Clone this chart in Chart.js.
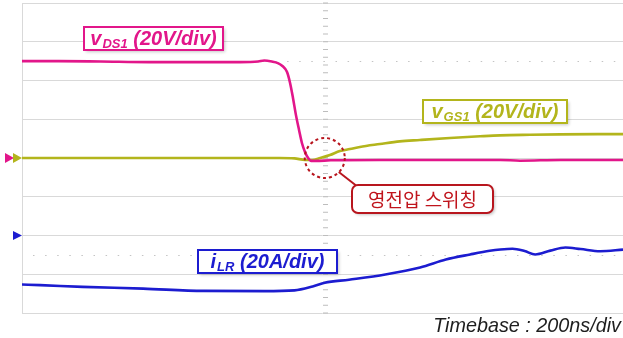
<!DOCTYPE html>
<html>
<head>
<meta charset="utf-8">
<script src="https://cdn.jsdelivr.net/npm/chart.js@4/dist/chart.umd.min.js"></script>
<style>
  html, body { margin: 0; padding: 0; background: #ffffff; }
  #wrap { width: 623px; height: 338px; }
</style>
</head>
<body>
<div id="wrap"><canvas id="scope" width="623" height="338"></canvas></div>
<script>
// Time axis: 200 ns per division
const timeDivNs = 200;
const timeMaxNs = 1985;

// Drain-source voltage (V)
const vdsTime  = [0, 120, 260, 420, 590, 720, 780, 800, 825, 845, 860, 875, 885, 895, 905, 915, 925, 935, 945, 955, 970, 1020, 1180, 1410, 1580, 1645, 1780, 1985];
const vdsVolts = [50, 50, 49.8, 49.5, 49.5, 49.5, 49.8, 50.3, 49.8, 49, 47.5, 44.5, 39, 31, 22, 14.5, 7.5, 3, 0, -1.5, -1.5, -1.2, -1, -1, -1, -1.4, -1, -1];

// Gate-source voltage (V)
const vgsTime  = [0, 260, 590, 850, 900, 935, 958, 985, 1017, 1050, 1083, 1116, 1182, 1248, 1314, 1413, 1513, 1579, 1678, 1777, 1910, 1985];
const vgsVolts = [0, 0, 0, 0, -0.2, -1, -1, 0, 1.5, 3.6, 4.6, 5.7, 7.2, 8.6, 9.3, 10.3, 11.2, 11.7, 12, 12.2, 12.3, 12.3];

// Resonant inductor current (A)
const ilrTime = [0, 60, 200, 400, 600, 800, 900, 960, 1000, 1080, 1200, 1315, 1400, 1480, 1545, 1580, 1620, 1660, 1695, 1745, 1795, 1845, 1910, 1985];
const ilrAmps = [-25.3, -25.6, -26.5, -27.4, -28.6, -28.7, -28.3, -26.3, -24.4, -22.8, -20.1, -16.5, -12.4, -9.8, -7.9, -7.2, -6.8, -8.0, -9.8, -7.8, -6.2, -7.0, -8.1, -7.3];

// Channel labels
const channelLabels = [
  { main: 'v', sub: 'DS1', rest: ' (20V/div)' },
  { main: 'v', sub: 'GS1', rest: ' (20V/div)' },
  { main: 'i', sub: 'LR',  rest: ' (20A/div)' }
];
const zvsLabel = '영전압 스위칭';
const timebaseLabel = 'Timebase : 200ns/div';

const C_VDS = '#e2168a';
const C_VGS = '#b3b51c';
const C_ILR = '#1c1cd0';
const C_ZVS = '#b8161e';
const GRID = '#d9d9d9';

const toPts = (xs, ys) => xs.map((x, i) => ({ x, y: ys[i] }));

function drawTriangle(ctx, xTip, y, w, h, color) {
  ctx.beginPath();
  ctx.moveTo(xTip - w, y - h / 2);
  ctx.lineTo(xTip, y);
  ctx.lineTo(xTip - w, y + h / 2);
  ctx.closePath();
  ctx.fillStyle = color;
  ctx.fill();
}

function drawChannelLabel(ctx, box, lab, color) {
  ctx.save();
  ctx.shadowColor = 'rgba(0,0,0,0.22)';
  ctx.shadowBlur = 3;
  ctx.shadowOffsetX = 2;
  ctx.shadowOffsetY = 2;
  ctx.fillStyle = '#ffffff';
  ctx.fillRect(box.x, box.y, box.w, box.h);
  ctx.restore();
  ctx.save();
  ctx.strokeStyle = color;
  ctx.lineWidth = 2;
  ctx.strokeRect(box.x, box.y, box.w, box.h);
  const big = 'italic bold 20px "Liberation Sans", Arial, sans-serif';
  const small = 'italic bold 13px "Liberation Sans", Arial, sans-serif';
  ctx.font = big;
  const w1 = ctx.measureText(lab.main).width;
  const w3 = ctx.measureText(lab.rest).width;
  ctx.font = small;
  const w2 = ctx.measureText(lab.sub).width;
  const total = w1 + w2 + w3 + 1;
  let x = box.x + (box.w - total) / 2;
  const base = box.y + box.h - 5;
  ctx.fillStyle = color;
  ctx.textBaseline = 'alphabetic';
  ctx.font = big;
  ctx.fillText(lab.main, x, base);
  x += w1 + 1;
  ctx.font = small;
  ctx.fillText(lab.sub, x, base + 3);
  x += w2;
  ctx.font = big;
  ctx.fillText(lab.rest, x, base);
  ctx.restore();
}

function roundRect(ctx, x, y, w, h, r) {
  ctx.beginPath();
  ctx.moveTo(x + r, y);
  ctx.lineTo(x + w - r, y);
  ctx.arcTo(x + w, y, x + w, y + r, r);
  ctx.lineTo(x + w, y + h - r);
  ctx.arcTo(x + w, y + h, x + w - r, y + h, r);
  ctx.lineTo(x + r, y + h);
  ctx.arcTo(x, y + h, x, y + h - r, r);
  ctx.lineTo(x, y + r);
  ctx.arcTo(x, y, x + r, y, r);
  ctx.closePath();
}

// Graticule extras: dotted half-division rows and minor ticks on the centre time axis
const graticulePlugin = {
  id: 'graticule',
  beforeDatasetsDraw(chart) {
    const { ctx, chartArea: a } = chart;
    const xs = chart.scales.x, yv = chart.scales.yV;
    ctx.save();
    ctx.strokeStyle = '#c4c4c4';
    ctx.lineWidth = 1;
    ctx.setLineDash([1.5, 10.6]);
    [50, -50].forEach(v => {
      const y = Math.round(yv.getPixelForValue(v)) + 0.5;
      ctx.beginPath();
      ctx.moveTo(a.left + 11, y);
      ctx.lineTo(a.right, y);
      ctx.stroke();
    });
    ctx.setLineDash([]);
    ctx.strokeStyle = '#bdbdbd';
    const cx = Math.round(xs.getPixelForValue(1000)) + 0.5;
    const cy = yv.getPixelForValue(0);
    const stepY = (yv.getPixelForValue(-20) - yv.getPixelForValue(0)) / 5;
    for (let y = cy; y <= a.bottom; y += stepY) { ctx.beginPath(); ctx.moveTo(cx - 2.5, y); ctx.lineTo(cx + 2.5, y); ctx.stroke(); }
    for (let y = cy; y >= a.top; y -= stepY) { ctx.beginPath(); ctx.moveTo(cx - 2.5, y); ctx.lineTo(cx + 2.5, y); ctx.stroke(); }
    ctx.restore();
  },
  afterDraw(chart) {
    const { ctx } = chart;
    const xs = chart.scales.x, yv = chart.scales.yV, yi = chart.scales.yI;

    // Channel reference markers
    const y0 = yv.getPixelForValue(0);
    drawTriangle(ctx, 14, y0, 9, 10, C_VDS);
    drawTriangle(ctx, 22, y0, 9, 10, C_VGS);
    drawTriangle(ctx, 22, yi.getPixelForValue(0), 9, 9, C_ILR);

    // Channel labels
    drawChannelLabel(ctx, { x: 84, y: 27, w: 139, h: 23 }, channelLabels[0], C_VDS);
    drawChannelLabel(ctx, { x: 423, y: 100, w: 144, h: 23 }, channelLabels[1], C_VGS);
    drawChannelLabel(ctx, { x: 198, y: 250, w: 139, h: 23 }, channelLabels[2], C_ILR);

    // Zero-voltage-switching marker
    const zx = xs.getPixelForValue(1000), zy = yv.getPixelForValue(0);
    ctx.save();
    ctx.strokeStyle = C_ZVS;
    ctx.lineWidth = 2;
    ctx.setLineDash([3, 3]);
    ctx.beginPath();
    ctx.arc(zx, zy, 20, 0, Math.PI * 2);
    ctx.stroke();
    ctx.setLineDash([]);
    ctx.beginPath();
    ctx.moveTo(zx + 14, zy + 14);
    ctx.lineTo(358, 187);
    ctx.stroke();
    ctx.shadowColor = 'rgba(0,0,0,0.22)';
    ctx.shadowBlur = 3;
    ctx.shadowOffsetX = 2;
    ctx.shadowOffsetY = 2;
    roundRect(ctx, 352, 185, 141, 28, 6);
    ctx.fillStyle = '#ffffff';
    ctx.fill();
    ctx.shadowColor = 'transparent';
    ctx.stroke();
    ctx.fillStyle = '#c0141c';
    ctx.font = '19px "Noto Sans CJK KR", sans-serif';
    ctx.textAlign = 'center';
    ctx.textBaseline = 'middle';
    ctx.fillText(zvsLabel, 422.5, 199.5);
    ctx.restore();

    // Timebase note
    ctx.save();
    ctx.fillStyle = '#1e1e1e';
    ctx.font = 'italic 19.8px "Liberation Sans", Arial, sans-serif';
    ctx.textAlign = 'right';
    ctx.textBaseline = 'alphabetic';
    ctx.fillText(timebaseLabel, 621, 332);
    ctx.restore();
  }
};

new Chart(document.getElementById('scope'), {
  type: 'line',
  data: {
    datasets: [
      { label: 'vDS1', data: toPts(vdsTime, vdsVolts), yAxisID: 'yV', borderColor: C_VDS, order: 0 },
      { label: 'vGS1', data: toPts(vgsTime, vgsVolts), yAxisID: 'yV', borderColor: C_VGS, order: 1 },
      { label: 'iLR',  data: toPts(ilrTime, ilrAmps),  yAxisID: 'yI', borderColor: C_ILR, order: 2 }
    ]
  },
  options: {
    responsive: false,
    animation: false,
    events: [],
    layout: { padding: { left: 22, top: 3, right: 0, bottom: 25 } },
    elements: {
      point: { radius: 0 },
      line: { borderWidth: 2.6, cubicInterpolationMode: 'monotone', fill: false }
    },
    plugins: { legend: { display: false }, tooltip: { enabled: false } },
    scales: {
      x: {
        type: 'linear', min: 0, max: timeMaxNs,
        ticks: { display: false, stepSize: timeDivNs },
        afterBuildTicks: s => { s.ticks = s.ticks.filter(t => t.value % timeDivNs === 0); },
        grid: { color: GRID, drawTicks: false, lineWidth: 1 },
        border: { display: false }
      },
      yV: {
        position: 'left', min: -80, max: 80,
        ticks: { display: false, stepSize: 20 },
        grid: { color: GRID, drawTicks: false },
        border: { display: false }
      },
      yI: {
        position: 'right', min: -40, max: 120, display: false
      }
    }
  },
  plugins: [graticulePlugin]
});
</script>
</body>
</html>
